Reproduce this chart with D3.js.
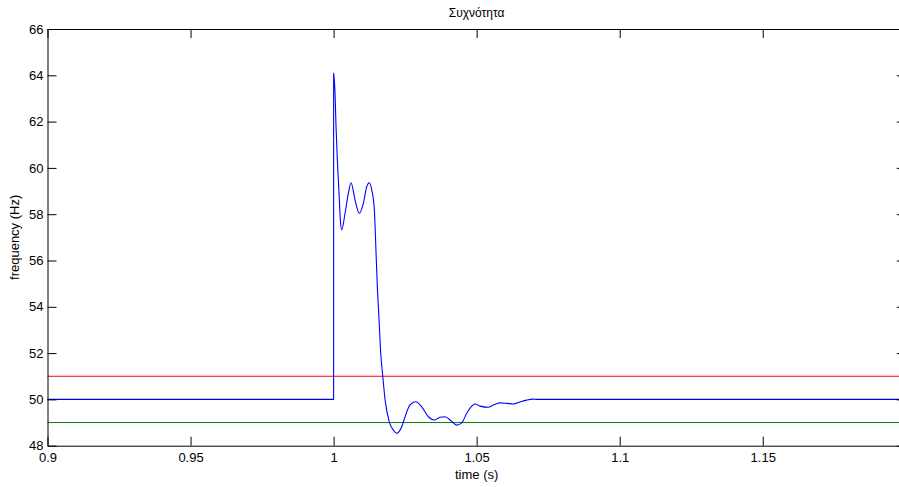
<!DOCTYPE html>
<html>
<head>
<meta charset="utf-8">
<script src="https://cdn.jsdelivr.net/npm/d3@7"></script>
<style>
html,body{margin:0;padding:0;background:#fff;overflow:hidden;}
svg{display:block;font-family:"Liberation Sans",Arial,sans-serif;}
</style>
</head>
<body>
<div id="chart"></div>
<script>
const titleText = "Συχνότητα";
const xLabel = "time (s)";
const yLabel = "frequency (Hz)";
const xTicks = [0.9, 0.95, 1, 1.05, 1.1, 1.15];
const yTicks = [48, 50, 52, 54, 56, 58, 60, 62, 64, 66];
const xDomain = [0.9, 1.2];
const yDomain = [48, 66];
const upperLimit = 51;
const lowerLimit = 49;
const timeVals = [0.9, 1.0, 1.00001, 1.0005, 1.00085, 1.00131, 1.0019, 1.00236, 1.00284, 1.0040,
  1.00516, 1.0061, 1.0075, 1.0090, 1.0104, 1.01158, 1.0125, 1.01333, 1.01425, 1.01484,
  1.01529, 1.01589, 1.01648, 1.01717, 1.01798, 1.01948, 1.02088, 1.02207, 1.02382, 1.02497,
  1.02672, 1.02871, 1.03081, 1.03312, 1.03522, 1.03721, 1.03895, 1.04105, 1.04304, 1.04479,
  1.04654, 1.04828, 1.04944, 1.05119, 1.0541, 1.05584, 1.05818, 1.06052, 1.06284, 1.06517,
  1.06751, 1.06982, 1.0710, 1.2];
const freqVals = [50, 50, 64.09, 63.22, 61.78, 60.34, 58.90, 57.75, 57.32, 58.04,
  58.90, 59.36, 58.61, 58.04, 58.47, 59.19, 59.36, 59.05, 58.18, 56.31,
  54.87, 53.43, 51.99, 51.02, 50.0, 49.02, 48.68, 48.54, 48.82, 49.25,
  49.76, 49.90, 49.68, 49.25, 49.11, 49.23, 49.25, 49.08, 48.89, 48.99,
  49.40, 49.71, 49.80, 49.71, 49.66, 49.76, 49.85, 49.83, 49.80, 49.89,
  49.97, 50.01, 50.0, 50.0];

(function () {
const W = 899, H = 487;
const mLeft = 47.5, mTop = 29, mBottom = 445.7, mRight = 905.8;

const svg = d3.select("#chart").append("svg").attr("width", W).attr("height", H);
const x = d3.scaleLinear().domain(xDomain).range([mLeft, mRight]);
const y = d3.scaleLinear().domain(yDomain).range([mBottom, mTop]);

const plot = svg.append("g");
plot.append("line").attr("x1", x(xDomain[0])).attr("x2", x(xDomain[1]))
  .attr("y1", y(upperLimit)).attr("y2", y(upperLimit))
  .attr("stroke", "#ff0000").attr("stroke-width", 1);
plot.append("line").attr("x1", x(xDomain[0])).attr("x2", x(xDomain[1]))
  .attr("y1", y(lowerLimit)).attr("y2", y(lowerLimit))
  .attr("stroke", "#008000").attr("stroke-width", 1);

const pts = timeVals.map((t, i) => [t, freqVals[i]]);
const line = d3.line().x(d => x(d[0])).y(d => y(d[1])).curve(d3.curveMonotoneX);
plot.append("path").datum(pts).attr("d", line)
  .attr("fill", "none").attr("stroke", "#0000ff").attr("stroke-width", 1.1);

const tl = -9;
const fmt = d => String(d);
svg.append("g").attr("transform", `translate(0,${mBottom})`)
  .call(d3.axisBottom(x).tickValues(xTicks).tickSizeInner(tl).tickSizeOuter(0).tickPadding(7).tickFormat(fmt));
svg.append("g").attr("transform", `translate(0,${mTop})`)
  .call(d3.axisTop(x).tickValues(xTicks).tickSizeInner(tl).tickSizeOuter(0).tickFormat(""));
svg.append("g").attr("transform", `translate(${mLeft},0)`)
  .call(d3.axisLeft(y).tickValues(yTicks).tickSizeInner(tl).tickSizeOuter(0).tickPadding(4).tickFormat(fmt));
svg.append("g").attr("transform", `translate(${mRight},0)`)
  .call(d3.axisRight(y).tickValues(yTicks).tickSizeInner(tl).tickSizeOuter(0).tickFormat(""));

svg.selectAll(".domain").attr("stroke", "#000").attr("stroke-width", 1);
svg.selectAll(".tick line").attr("stroke", "#000");
svg.selectAll(".tick text").attr("font-size", 13).attr("fill", "#000")
  .attr("font-family", "'Liberation Sans', Arial, sans-serif");

svg.append("text").attr("x", (mLeft + mRight) / 2).attr("y", 17)
  .attr("text-anchor", "middle").attr("font-size", 12).text(titleText);
svg.append("text").attr("x", (mLeft + mRight) / 2).attr("y", 479)
  .attr("text-anchor", "middle").attr("font-size", 13).text(xLabel);
svg.append("text").attr("transform", `translate(18.5,${(mTop + mBottom) / 2}) rotate(-90)`)
  .attr("text-anchor", "middle").attr("font-size", 13).text(yLabel);
})();
</script>
</body>
</html>
